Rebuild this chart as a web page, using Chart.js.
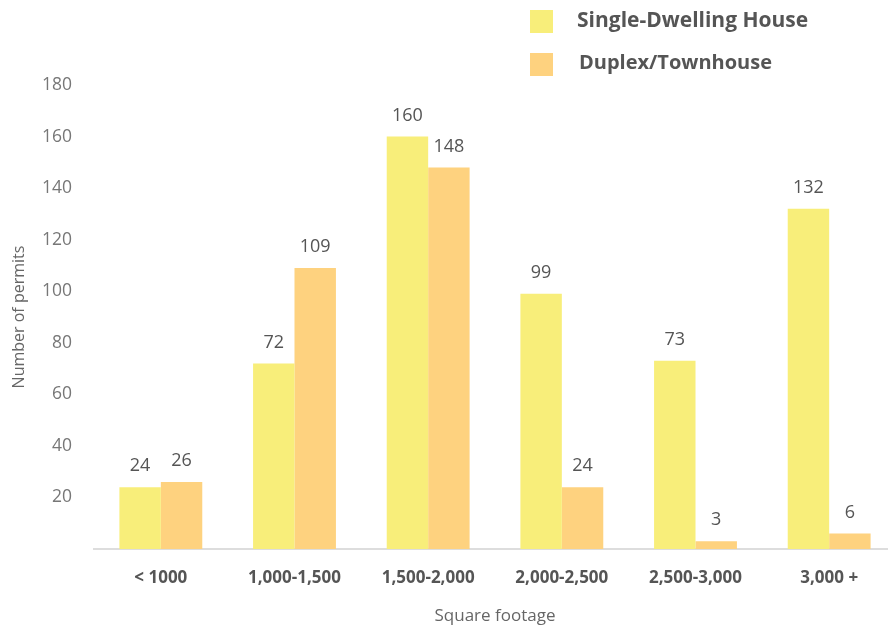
<!DOCTYPE html>
<html>
<head>
<meta charset="utf-8">
<script src="https://cdn.jsdelivr.net/npm/chart.js@4/dist/chart.umd.min.js"></script>
<style>
  html, body { margin: 0; padding: 0; background: #fff; overflow: hidden; }
  #wrap { position: relative; width: 896px; height: 626px; }
</style>
</head>
<body>
<div id="wrap"><canvas id="c"></canvas></div>
<script>
const categories = ['< 1000', '1,000-1,500', '1,500-2,000', '2,000-2,500', '2,500-3,000', '3,000 +'];
const singleDwelling = [24, 72, 160, 99, 73, 132];
const duplexTownhouse = [26, 109, 148, 24, 3, 6];
const yTicks = [20, 40, 60, 80, 100, 120, 140, 160, 180];

const FONT = "'Open Sans', 'Noto Sans', sans-serif";
const YELLOW = '#F8EE7A';
const ORANGE = '#FED27F';

// Value labels above each bar
const valueLabels = {
  id: 'valueLabels',
  afterDatasetsDraw(chart) {
    const ctx = chart.ctx;
    ctx.save();
    ctx.font = "18px " + FONT;
    ctx.fillStyle = '#555';
    ctx.textAlign = 'center';
    ctx.textBaseline = 'middle';
    chart.data.datasets.forEach((ds, i) => {
      chart.getDatasetMeta(i).data.forEach((bar, j) => {
        ctx.fillText(String(ds.data[j]), bar.x, bar.y - 21);
      });
    });
    ctx.restore();
  }
};

// Legend block in the top right corner
const sideLegend = {
  id: 'sideLegend',
  afterDraw(chart) {
    const ctx = chart.ctx;
    ctx.save();
    const rows = [
      { box: [530, 10], text: [577, 21], size: 21 },
      { box: [530, 53], text: [579, 63], size: 20 }
    ];
    chart.data.datasets.forEach((ds, i) => {
      const r = rows[i];
      ctx.fillStyle = ds.backgroundColor;
      ctx.fillRect(r.box[0], r.box[1], 23, 23);
      ctx.fillStyle = '#555';
      ctx.font = "bold " + r.size + "px " + FONT;
      ctx.textAlign = 'left';
      ctx.textBaseline = 'middle';
      ctx.fillText(ds.label, r.text[0], r.text[1]);
    });
    ctx.restore();
  }
};

new Chart(document.getElementById('c'), {
  type: 'bar',
  data: {
    labels: categories,
    datasets: [
      { label: 'Single-Dwelling House', data: singleDwelling, backgroundColor: YELLOW },
      { label: 'Duplex/Townhouse', data: duplexTownhouse, backgroundColor: ORANGE }
    ]
  },
  options: {
    responsive: true,
    maintainAspectRatio: false,
    animation: false,
    events: [],
    layout: { padding: { top: 85, left: 0, right: 0, bottom: 0 } },
    datasets: { bar: { categoryPercentage: 0.62, barPercentage: 1.0 } },
    plugins: { legend: { display: false }, tooltip: { enabled: false } },
    scales: {
      x: {
        grid: { display: false, drawTicks: false },
        border: { display: true, color: '#ddd', width: 2 },
        ticks: { color: '#555', font: { family: FONT, size: 17, weight: 'bold' }, padding: 19, maxRotation: 0 },
        title: { display: true, text: 'Square footage', color: '#666', font: { family: FONT, size: 17 }, padding: { top: 0, bottom: 0 } },
        afterFit(scale) { scale.height = 77; }
      },
      y: {
        min: 0,
        max: 180,
        afterBuildTicks(scale) { scale.ticks = yTicks.map(v => ({ value: v })); },
        grid: { display: false, drawTicks: false },
        border: { display: false },
        ticks: { color: '#777', font: { family: FONT, size: 17.5 }, padding: 22 },
        title: { display: true, text: 'Number of permits', color: '#666', font: { family: FONT, size: 16 }, padding: { top: 10, bottom: 0 } },
        afterFit(scale) { scale.width = 94; }
      }
    }
  },
  plugins: [valueLabels, sideLegend]
});
</script>
</body>
</html>
